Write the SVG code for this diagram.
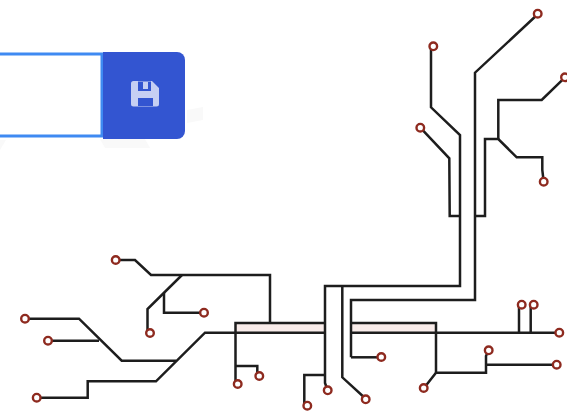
<svg xmlns="http://www.w3.org/2000/svg" width="567" height="411" viewBox="0 0 567 411">
<style>
.w{fill:none;stroke:#1d1d1d;stroke-width:2.5;stroke-linejoin:miter}
.n{fill:#fff;stroke:#8e2a1f;stroke-width:2.4}
.b{fill:#f9ecea;stroke:none}
</style>
<rect width="567" height="411" fill="#fff"/>
<g id="smudges" fill="#f9f9f9">
<path d="M187 110L203 107V120L187 123Z"/>
<path d="M100 139H145L150 148H105Z"/>
<path d="M0 140H6L0 150Z"/>
</g>
<g id="input"><path d="M0 54H102V136H0" fill="#fff" stroke="#3f8af2" stroke-width="3"/></g>
<g id="save-button">
<path d="M103 52H177A8 8 0 0 1 185 60V131A8 8 0 0 1 177 139H103Z" fill="#3355d1"/>
<path d="M131 83.500A2.500 2.500 0 0 1 133.500 81H152L159 88V104A2.500 2.500 0 0 1 156.500 106.500H133.500A2.500 2.500 0 0 1 131 104ZM138 81.500V91H151V81.500ZM138 98V106H153V98Z" fill="#d6ddf6" fill-opacity="0.9" fill-rule="evenodd"/>
<rect x="143" y="82" width="5" height="7" fill="#d6ddf6" fill-opacity="0.9"/>
</g>
<g id="bus-segments">
<rect class="b" x="235" y="323" width="90" height="10"/>
<rect class="b" x="352" y="323" width="84" height="10"/>
</g>
<g id="connectors" class="w">
<path class="w" d="M116 260H135L151 275H270V323"/>
<path class="w" d="M182 275L147.500 309V333"/>
<path class="w" d="M164 293V312.700H204"/>
<path class="w" d="M25 318.700H79L121.700 360.700H176"/>
<path class="w" d="M48 340.700H99"/>
<path class="w" d="M325 332.700H205L156 381.300H87.700V397.700H37"/>
<path class="w" d="M325 323H235.500V384"/>
<path class="w" d="M236 366H257.300V376"/>
<path class="w" d="M327.500 390L325 383V286H460V135L431 107.300V46"/>
<path class="w" d="M342.300 286V377.300L366 399"/>
<path class="w" d="M325 375H304.300V405"/>
<path class="w" d="M351 323H436V372.700"/>
<path class="w" d="M351 357.300V300H475V72.700L538 14"/>
<path class="w" d="M351 357.300H381"/>
<path class="w" d="M351 332.700H559"/>
<path class="w" d="M519 332.700V305"/>
<path class="w" d="M530.700 332.700V305"/>
<path class="w" d="M424 388L436 372.700H486V356L488.700 350.300"/>
<path class="w" d="M486 364.700H557"/>
<path class="w" d="M420.300 127.700L449.300 158.300L449.700 216H460"/>
<path class="w" d="M475 216H485V139H498.300L516.700 157.300H542.300V170L543.700 182"/>
<path class="w" d="M498.300 139V100H541.700L565 77.300"/>
</g>
<g id="terminals">
<circle id="t1" class="n" cx="115.700" cy="260" r="3.800"/>
<circle id="t2" class="n" cx="150" cy="333" r="3.800"/>
<circle id="t3" class="n" cx="204" cy="312.700" r="3.800"/>
<circle id="t4" class="n" cx="25" cy="318.700" r="3.800"/>
<circle id="t5" class="n" cx="48" cy="340.700" r="3.800"/>
<circle id="t6" class="n" cx="36.700" cy="397.700" r="3.800"/>
<circle id="t7" class="n" cx="237.700" cy="384" r="3.800"/>
<circle id="t8" class="n" cx="259.300" cy="376" r="3.800"/>
<circle id="t9" class="n" cx="307.300" cy="405.700" r="3.800"/>
<circle id="t10" class="n" cx="327.700" cy="390.300" r="3.800"/>
<circle id="t11" class="n" cx="365.700" cy="399.300" r="3.800"/>
<circle id="t12" class="n" cx="381.300" cy="357" r="3.800"/>
<circle id="t13" class="n" cx="423.700" cy="388" r="3.800"/>
<circle id="t14" class="n" cx="488.700" cy="350.300" r="3.800"/>
<circle id="t15" class="n" cx="556.700" cy="364.700" r="3.800"/>
<circle id="t16" class="n" cx="559.300" cy="332.700" r="3.800"/>
<circle id="t17" class="n" cx="521.700" cy="304.700" r="3.800"/>
<circle id="t18" class="n" cx="533.700" cy="304.700" r="3.800"/>
<circle id="t19" class="n" cx="537.700" cy="13.700" r="3.800"/>
<circle id="t20" class="n" cx="433.300" cy="46.300" r="3.800"/>
<circle id="t21" class="n" cx="420.300" cy="127.700" r="3.800"/>
<circle id="t22" class="n" cx="565" cy="77.300" r="3.800"/>
<circle id="t23" class="n" cx="543.700" cy="181.700" r="3.800"/>
</g>
</svg>
